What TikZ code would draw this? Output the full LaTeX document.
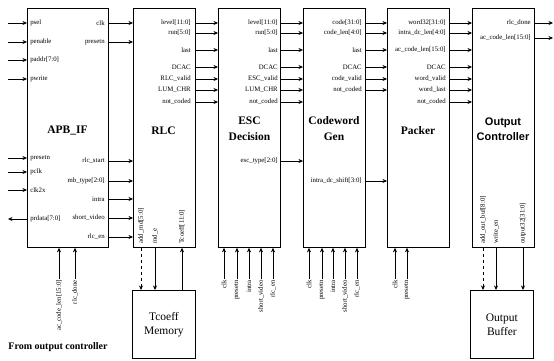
\documentclass[tikz,border=0pt]{standalone}
\usepackage{fontspec}
\setmainfont{Liberation Serif}
\setsansfont{Liberation Sans}
\usetikzlibrary{arrows.meta,positioning}
\tikzset{
  >={Stealth[length=4.5pt,width=4pt]},
  every path/.style={line width=0.6pt},
  blk/.style={draw,line width=0.8pt,anchor=north west,inner sep=0pt,
    minimum width=62pt,minimum height=239pt},
  memblk/.style={draw,line width=0.8pt,anchor=north west,inner sep=0pt,
    minimum width=63pt,minimum height=68pt},
  ttl/.style={font=\fontsize{11.5}{16}\selectfont\bfseries,align=center},
  memtxt/.style={font=\fontsize{11.5}{14}\selectfont,align=center},
  sig/.style={font=\fontsize{6.8}{7.5}\selectfont,inner sep=1pt},
  note/.style={font=\fontsize{10}{11}\selectfont\bfseries},
}
\begin{document}
\begin{tikzpicture}[x=1pt,y=-1pt]
  \useasboundingbox (0,0) rectangle (554,361);
  % blocks
  \node[blk,minimum width=81pt] (apb) at (27,8) {};
  \node[blk] (rlc) at (133,8) {};
  \node[blk] (esc) at (218,8) {};
  \node[blk] (cwg) at (303,8) {};
  \node[blk] (pck) at (387,8) {};
  \node[blk] (occ) at (472,8) {};
  \node[memblk] (tmem) at (132,290) {};
  \node[memblk] (obuf) at (470,290) {};
  % titles
  \node[ttl] at (67.5,131) {APB\_IF};
  \node[ttl] at (163.5,131) {RLC};
  \node[ttl] at (249.5,129) {ESC\\Decision};
  \node[ttl] at (334,129) {Codeword\\Gen};
  \node[ttl] at (418,131) {Packer};
  \node[ttl,font=\fontsize{11}{15}\selectfont\sffamily\bfseries] at (503,129) {Output\\Controller};
  \node[memtxt] at (tmem.center) {Tcoeff\\Memory};
  \node[memtxt] at (obuf.center) {Output\\Buffer};

  % APB bus side
  \foreach \y/\s [count=\i] in {23/psel,42/penable,60/paddr[7:0],79/pwrite,158/presetn,172/pclk,190/clk2x}{
    \node[sig,anchor=west] (ai\i) at (29,\y) {\s};
    \draw[->] (ai\i -| 8,0) -- (ai\i -| apb.west);
  }
  \node[sig,anchor=west] (apd) at (29,219) {prdata[7:0]};
  \draw[<-] (apd -| 8,0) -- (apd -| apb.west);

  % APB_IF -> RLC
  \foreach \y/\s [count=\i] in {23/clk,42/presetn,161/rlc\_start,181/mb\_type[2:0],199/intra,218/short\_video,237/rlc\_en}{
    \node[sig,anchor=east] (ao\i) at (106,\y) {\s};
    \draw[->] (ao\i -| apb.east) -- (ao\i -| rlc.west);
  }
  % RLC -> ESC
  \foreach \y/\s [count=\i] in {23/level[11:0],33/run[5:0],50/last,67/DCAC,79/RLC\_valid,90/LUM\_CHR,102/not\_coded}{
    \node[sig,anchor=east] (ro\i) at (192,\y) {\s};
    \draw[->] (ro\i -| rlc.east) -- (ro\i -| esc.west);
  }
  % ESC -> Codeword
  \foreach \y/\s [count=\i] in {23/level[11:0],33/run[5:0],50/last,67/DCAC,79/ESC\_valid,90/LUM\_CHR,102/not\_coded,161/esc\_type[2:0]}{
    \node[sig,anchor=east] (eo\i) at (279,\y) {\s};
    \draw[->] (eo\i -| esc.east) -- (eo\i -| cwg.west);
  }
  % Codeword -> Packer
  \foreach \y/\s [count=\i] in {23/code[31:0],33/code\_len[4:0],50/last,67/DCAC,79/code\_valid,90/not\_coded,181/intra\_dc\_shift[3:0]}{
    \node[sig,anchor=east] (co\i) at (363,\y) {\s};
    \draw[->] (co\i -| cwg.east) -- (co\i -| pck.west);
  }
  % Packer -> Output Controller
  \foreach \y/\s [count=\i] in {23/word32[31:0],33/intra\_dc\_len[4:0],50/ac\_code\_len[15:0],67/DCAC,79/word\_valid,90/word\_last,102/not\_coded}{
    \node[sig,anchor=east] (po\i) at (447,\y) {\s};
    \draw[->] (po\i -| pck.east) -- (po\i -| occ.west);
  }
  % Output Controller outputs
  \foreach \y/\s [count=\i] in {23/rlc\_done,38/ac\_code\_len[15:0]}{
    \node[sig,anchor=east] (oo\i) at (532,\y) {\s};
    \draw[->] (oo\i -| occ.east) -- (oo\i -| 553,0);
  }

  % bottom inputs
  \foreach \x/\s [count=\i] in {59/ac\_code\_len[15:0],75/rlc\_done}{
    \node[sig,rotate=90,anchor=east] (ab\i) at (\x,279) {\s};
    \draw[->] (ab\i.east) -- (ab\i.east |- apb.south);
  }
  \node[note] (frm) at (58,347) {From output controller};
  \foreach \x/\s [count=\i] in {224/clk,237/presetn,249/intra,261/short\_video,273/rlc\_en}{
    \node[sig,rotate=90,anchor=east] (eb\i) at (\x,279) {\s};
    \draw[->] (eb\i.east) -- (eb\i.east |- esc.south);
  }
  \foreach \x/\s [count=\i] in {309/clk,322/presetn,333/intra,345/short\_video,357/rlc\_en}{
    \node[sig,rotate=90,anchor=east] (cb\i) at (\x,279) {\s};
    \draw[->] (cb\i.east) -- (cb\i.east |- cwg.south);
  }
  \foreach \x/\s [count=\i] in {395/clk,407/presetn}{
    \node[sig,rotate=90,anchor=east] (pb\i) at (\x,279) {\s};
    \draw[->] (pb\i.east) -- (pb\i.east |- pck.south);
  }

  % RLC <-> Tcoeff Memory
  \node[sig,rotate=90,anchor=west] (ma) at (141,245) {add\_rnd[5:0]};
  \node[sig,rotate=90,anchor=west] (mb) at (155,245) {rnd\_e};
  \node[sig,rotate=90,anchor=west] (mc) at (182,245) {Tcoeff[11:0]};
  \draw[->,dashed] (ma.west |- rlc.south) -- (ma.west |- tmem.north);
  \draw[->] (mb.west |- rlc.south) -- (mb.west |- tmem.north);
  \draw[<-] (mc.west |- rlc.south) -- (mc.west |- tmem.north);

  % Output Controller -> Output Buffer
  \node[sig,rotate=90,anchor=west] (oa) at (483,245) {add\_out\_buf[8:0]};
  \node[sig,rotate=90,anchor=west] (ob) at (496,245) {write\_en};
  \node[sig,rotate=90,anchor=west] (oc) at (523,245) {output32[31:0]};
  \draw[->,dashed] (oa.west |- occ.south) -- (oa.west |- obuf.north);
  \draw[->] (ob.west |- occ.south) -- (ob.west |- obuf.north);
  \draw[->] (oc.west |- occ.south) -- (oc.west |- obuf.north);
\end{tikzpicture}
\end{document}
